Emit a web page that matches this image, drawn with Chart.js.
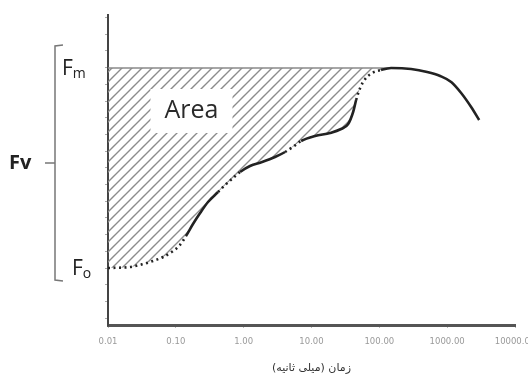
<!DOCTYPE html>
<html>
<head>
<meta charset="utf-8">
<script src="https://cdn.jsdelivr.net/npm/chart.js@4/dist/chart.umd.min.js"></script>
<style>
  html, body { margin: 0; padding: 0; background: #fff; }
  #wrap { width: 528px; height: 379px; }
</style>
</head>
<body>
<div id="wrap"><canvas id="c" width="528" height="379"></canvas></div>
<script>
// Chlorophyll fluorescence induction (OJIP) over time, log time axis
const timeMs = [0.01, 0.021, 0.033, 0.046, 0.065, 0.091, 0.115, 0.141, 0.179, 0.228,
  0.298, 0.419, 0.532, 0.698, 0.885, 1.24, 1.87, 2.9, 4.08, 5.54,
  7.03, 11.3, 18.8, 27.3, 34.7, 41.1, 45.5, 52.1, 61.8, 78.4,
  106, 149, 294, 507, 789, 1146, 1608, 2257, 2964];
const fluorescence = [570, 580, 610, 640, 680, 740, 800, 890, 1010, 1120,
  1230, 1330, 1400, 1470, 1530, 1590, 1630, 1680, 1730, 1790,
  1840, 1890, 1920, 1960, 2010, 2130, 2250, 2370, 2460, 2520,
  2550, 2570, 2560, 2530, 2490, 2430, 2320, 2180, 2050];
const FM = 2570;   // maximal fluorescence
const FO = 570;    // minimal fluorescence
const xTickValues = [0.01, 0.1, 1, 10, 100, 1000, 10000];
const axisTitle = 'زمان (میلی ثانیه)';
const areaLabel = 'Area';

// stretches of the trace that are rendered dotted
const dottedSpans = [[0.01, 0.12], [0.33, 0.85], [3, 7], [42, 100], [300, 500]];

const curve = timeMs.map((t, i) => ({ x: t, y: fluorescence[i] }));
const peakIdx = fluorescence.indexOf(FM);
const risingPart = curve.slice(0, peakIdx + 1);
const fmLine = [{ x: timeMs[0], y: FM }, { x: timeMs[peakIdx], y: FM }];

const canvas = document.getElementById('c');
const ctx = canvas.getContext('2d');

// diagonal hatch pattern
const tile = document.createElement('canvas');
tile.width = 10; tile.height = 10;
const tc = tile.getContext('2d');
tc.strokeStyle = '#8c8c8c';
tc.lineWidth = 1.4;
tc.beginPath();
tc.moveTo(-1, 11); tc.lineTo(11, -1);
tc.moveTo(-1, 1); tc.lineTo(1, -1);
tc.moveTo(9, 11); tc.lineTo(11, 9);
tc.stroke();
const hatch = ctx.createPattern(tile, 'repeat');

const annotations = {
  id: 'annotations',
  afterDatasetsDraw(chart) {
    const c = chart.ctx, xs = chart.scales.x, ys = chart.scales.y;
    // white box with the "Area" caption inside the hatched region
    const cx = xs.getPixelForValue(0.17), cy = ys.getPixelForValue(2140);
    c.save();
    c.fillStyle = '#fff';
    c.fillRect(cx - 41, cy - 22, 82, 44);
    c.fillStyle = '#2a2a2a';
    c.font = '25px "Open Sans", sans-serif';
    c.textAlign = 'center';
    c.textBaseline = 'middle';
    c.fillText(areaLabel, cx, cy);
    c.restore();
  },
  afterDraw(chart) {
    const c = chart.ctx, ys = chart.scales.y;
    const yFm = ys.getPixelForValue(FM), yFo = ys.getPixelForValue(FO);
    c.save();
    c.fillStyle = '#222';
    c.textBaseline = 'alphabetic';
    const sym = (x, y, sub) => {
      c.font = '21px "Open Sans", sans-serif';
      c.fillText('F', x, y + 7);
      const w = c.measureText('F').width;
      c.font = '14px "Open Sans", sans-serif';
      c.fillText(sub, x + w, y + 10);
    };
    sym(62, yFm, 'm');
    sym(72, yFo, 'o');
    // bracket spanning Fo..Fm
    const top = yFm - 22, bot = yFo + 12, bx = 55;
    c.strokeStyle = '#777';
    c.lineWidth = 1.5;
    c.beginPath();
    c.moveTo(bx + 8, top - 1); c.lineTo(bx, top); c.lineTo(bx, bot); c.lineTo(bx + 8, bot + 1);
    const mid = (top + bot) / 2;
    c.moveTo(bx, mid); c.lineTo(bx - 10, mid);
    c.stroke();
    c.font = 'bold 20px "Open Sans", sans-serif';
    c.fillStyle = '#222';
    c.textBaseline = 'middle';
    c.fillText('Fv', 9, mid);
    c.restore();
  }
};

new Chart(ctx, {
  type: 'line',
  data: {
    datasets: [
      {
        label: 'trace',
        data: curve,
        borderColor: '#222',
        borderWidth: 2.6,
        pointRadius: 0,
        fill: false,
        cubicInterpolationMode: 'monotone',
        order: 0,
        segment: {
          borderDash: s => dottedSpans.some(([a, b]) => s.p0.parsed.x >= a && s.p0.parsed.x < b) ? [2, 3.5] : undefined
        }
      },
      {
        label: 'Fm',
        data: fmLine,
        borderColor: '#8a8a8a',
        borderWidth: 1.6,
        pointRadius: 0,
        fill: false,
        order: 1
      },
      {
        label: 'area',
        data: risingPart,
        borderWidth: 0,
        borderColor: 'rgba(0,0,0,0)',
        backgroundColor: hatch,
        pointRadius: 0,
        cubicInterpolationMode: 'monotone',
        fill: { value: FM },
        order: 2
      }
    ]
  },
  options: {
    responsive: false,
    animation: false,
    layout: { padding: { top: 15, right: 13, left: 0, bottom: 0 } },
    plugins: { legend: { display: false }, tooltip: { enabled: false } },
    scales: {
      x: {
        type: 'logarithmic',
        min: 0.01,
        max: 10000,
        afterBuildTicks: s => { s.ticks = xTickValues.map(v => ({ value: v })); },
        afterFit: s => { s.height = 54; s.paddingLeft = 0; s.paddingRight = 0; },
        ticks: {
          callback: v => Number(v).toFixed(2),
          color: '#9a9a9a',
          font: { size: 8.5, family: 'DejaVu Sans' },
          maxRotation: 0,
          autoSkip: false,
          padding: 9
        },
        grid: { display: true, drawOnChartArea: false, drawTicks: true, tickLength: 3, color: '#bbb' },
        border: { display: true, color: '#555', width: 3 },
        title: {
          display: true,
          text: axisTitle,
          color: '#333',
          font: { size: 11, family: 'DejaVu Sans' },
          padding: { top: 8, bottom: 4 }
        }
      },
      y: {
        min: 0,
        max: 3100,
        afterBuildTicks: s => {
          const t = [];
          for (let v = FO - 167 * 3; v <= 3100; v += 167) if (v >= 0) t.push({ value: v });
          s.ticks = t;
        },
        afterFit: s => { s.width = 108; },
        ticks: { display: false },
        grid: { display: true, drawOnChartArea: false, drawTicks: true, tickLength: 3, color: '#aaa' },
        border: { display: true, color: '#444', width: 2 }
      }
    }
  },
  plugins: [annotations]
});
</script>
</body>
</html>
